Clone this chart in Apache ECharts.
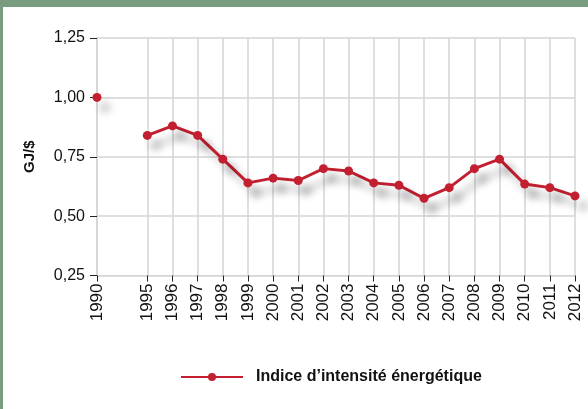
<!DOCTYPE html>
<html>
<head>
<meta charset="utf-8">
<script src="https://cdn.jsdelivr.net/npm/echarts@6/dist/echarts.min.js"></script>
<style>
  html, body { margin: 0; padding: 0; background: #ffffff; }
  #frame {
    width: 588px; height: 409px; box-sizing: border-box;
    border-top: 7px solid #799c81; border-left: 3px solid #799c81;
  }
  #chart { width: 585px; height: 402px; }
</style>
</head>
<body>
<div id="frame"><div id="chart"></div></div>
<script>
// years on the axis; the empty slot stands for the gap between 1990 and 1995
var years = ['1990', '', '1995', '1996', '1997', '1998', '1999', '2000', '2001', '2002',
             '2003', '2004', '2005', '2006', '2007', '2008', '2009', '2010', '2011', '2012'];
var intensity = [1.00, null, 0.84, 0.88, 0.84, 0.74, 0.64, 0.66, 0.65, 0.70,
                 0.69, 0.64, 0.63, 0.575, 0.62, 0.70, 0.74, 0.635, 0.62, 0.585];
var seriesName = 'Indice d\u2019intensit\u00e9 \u00e9nerg\u00e9tique';
var yTicks = [0.25, 0.5, 0.75, 1.0, 1.25];

var red = '#c21f30';
var narrow = '"Liberation Sans Narrow", "Liberation Sans", Arial, sans-serif';
var regular = '"Liberation Sans", Arial, sans-serif';
var hasLabel = function (idx, val) { return val !== ''; };

var chart = echarts.init(document.getElementById('chart'));
var option = {
    animation: false,
    grid: { left: 94, right: 13, top: 31, bottom: 133.5 },
    legend: {
        left: 172,
        top: 357,
        itemWidth: 62,
        itemHeight: 10,
        itemGap: 10,
        textStyle: {
            fontFamily: narrow,
            fontWeight: 'bold',
            fontSize: 16,
            color: '#111',
            padding: [0, 0, 0, 8]
        },
        data: [seriesName]
    },
    xAxis: {
        type: 'category',
        data: years,
        boundaryGap: false,
        axisLine: { show: true, lineStyle: { color: '#d4d4d4', width: 1 } },
        axisTick: { show: true, interval: hasLabel, length: 6, lineStyle: { color: '#222' } },
        splitLine: { show: true, interval: hasLabel, lineStyle: { color: '#d4d4d4', width: 1.5 } },
        axisLabel: {
            interval: 0,
            rotate: 90,
            margin: 8,
            fontFamily: regular,
            fontSize: 17,
            color: '#111'
        }
    },
    yAxis: {
        type: 'value',
        min: yTicks[0],
        max: yTicks[yTicks.length - 1],
        interval: 0.25,
        name: 'GJ/$',
        nameLocation: 'middle',
        nameGap: 60,
        nameTextStyle: {
            fontFamily: narrow,
            fontWeight: 'bold',
            fontSize: 15,
            color: '#111'
        },
        axisLine: { show: true, lineStyle: { color: '#d4d4d4', width: 1.5 } },
        axisTick: { show: true, length: 7, lineStyle: { color: '#222' } },
        splitLine: { show: true, lineStyle: { color: '#d4d4d4', width: 1.5 } },
        axisLabel: {
            margin: 12,
            fontFamily: narrow,
            fontSize: 16,
            color: '#111',
            formatter: function (v) { return v.toFixed(2).replace('.', ','); }
        }
    },
    series: [{
        name: seriesName,
        type: 'line',
        data: intensity,
        symbol: 'circle',
        symbolSize: 9,
        showSymbol: true,
        color: red,
        lineStyle: {
            width: 3,
            color: red,
            shadowColor: 'rgba(0,0,0,0.35)',
            shadowBlur: 8,
            shadowOffsetX: 8,
            shadowOffsetY: 10
        },
        itemStyle: {
            color: red,
            shadowColor: 'rgba(0,0,0,0.3)',
            shadowBlur: 8,
            shadowOffsetX: 8,
            shadowOffsetY: 10
        }
    }]
};
chart.setOption(option);
</script>
</body>
</html>
